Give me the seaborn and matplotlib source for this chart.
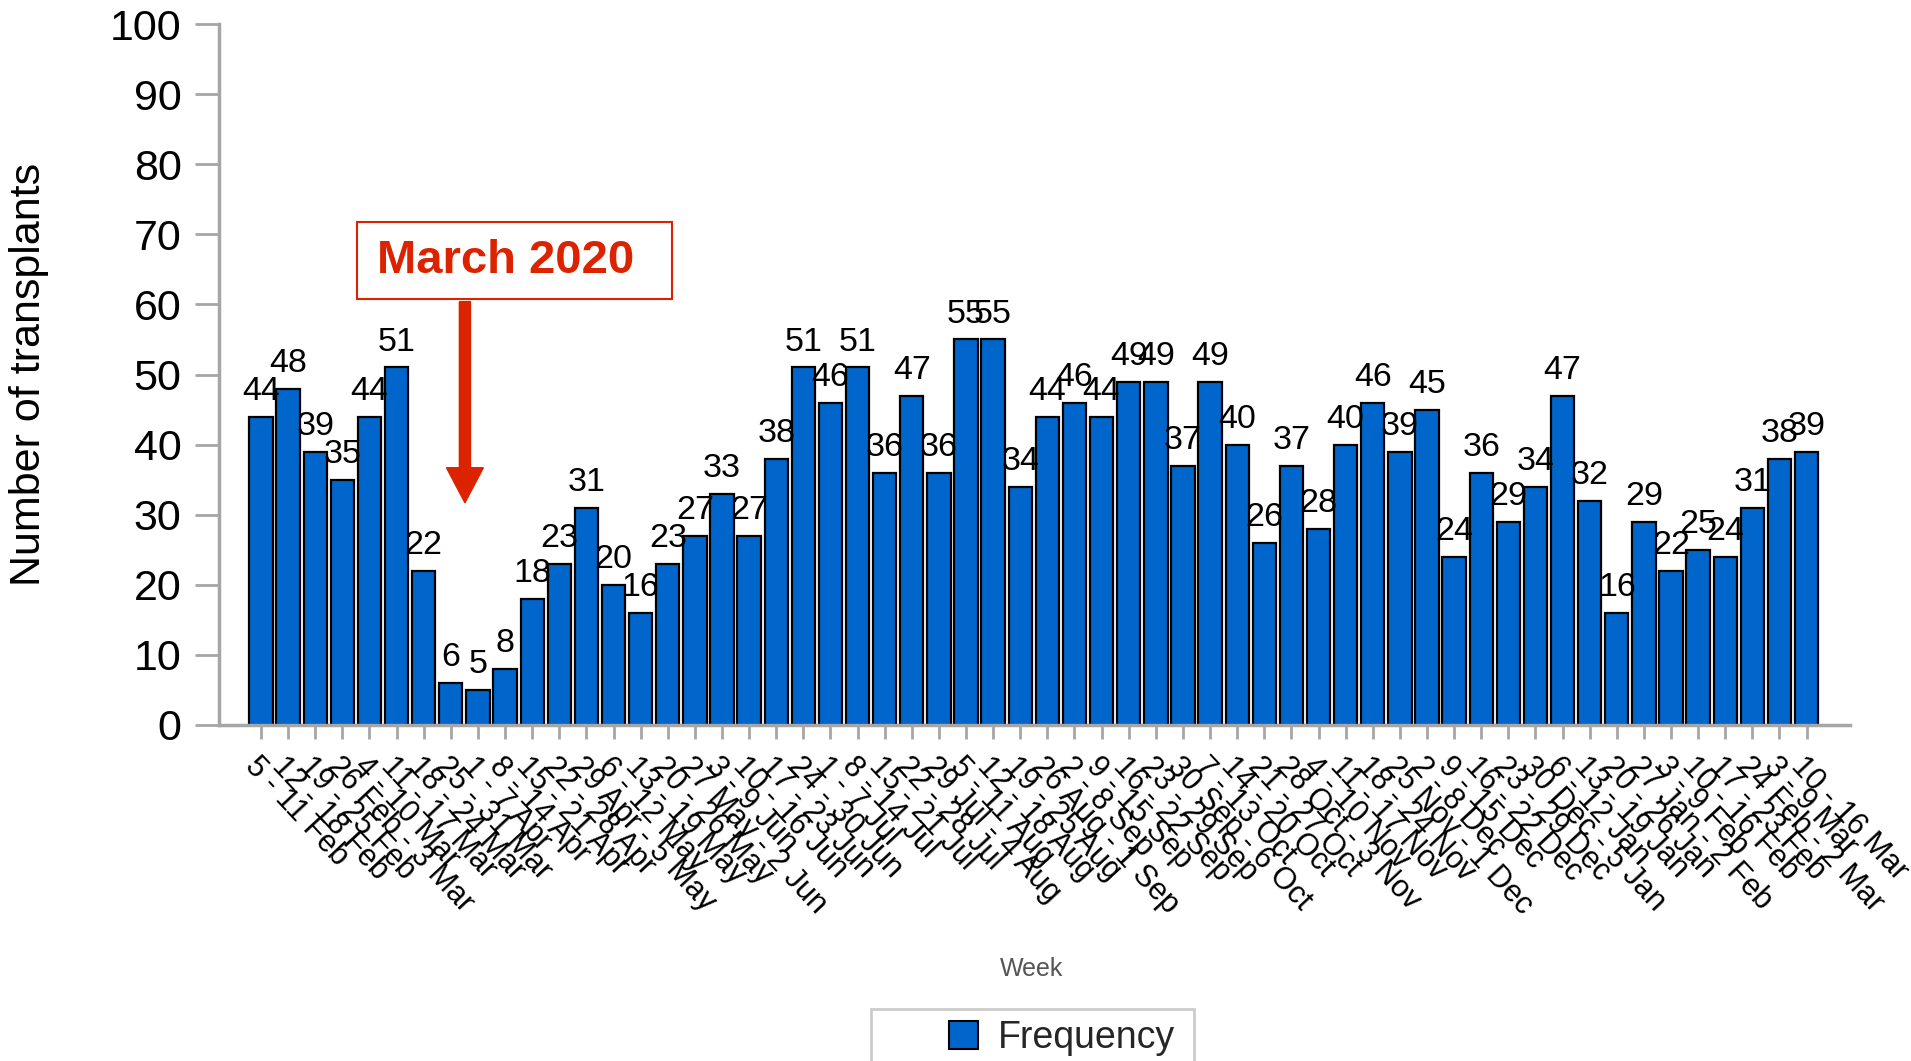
import numpy as np
import pandas as pd
import matplotlib
matplotlib.use("Agg")
import matplotlib.pyplot as plt
import seaborn as sns
from matplotlib.patches import Rectangle, FancyArrow, Patch

weeks = [
    "5 - 11 Feb", "12 - 18 Feb", "19 - 25 Feb", "26 Feb - 3 Mar", "4 - 10 Mar",
    "11 - 17 Mar", "18 - 24 Mar", "25 - 31 Mar", "1 - 7 Apr", "8 - 14 Apr",
    "15 - 21 Apr", "22 - 28 Apr", "29 Apr - 5 May", "6 - 12 May", "13 - 19 May",
    "20 - 26 May", "27 May - 2 Jun", "3 - 9 Jun", "10 - 16 Jun", "17 - 23 Jun",
    "24 - 30 Jun", "1 - 7 Jul", "8 - 14 Jul", "15 - 21 Jul", "22 - 28 Jul",
    "29 Jul - 4 Aug", "5 - 11 Aug", "12 - 18 Aug", "19 - 25 Aug", "26 Aug - 1 Sep",
    "2 - 8 Sep", "9 - 15 Sep", "16 - 22 Sep", "23 - 29 Sep", "30 Sep - 6 Oct",
    "7 - 13 Oct", "14 - 20 Oct", "21 - 27 Oct", "28 Oct - 3 Nov", "4 - 10 Nov",
    "11 - 17 Nov", "18 - 24 Nov", "25 Nov - 1 Dec", "2 - 8 Dec", "9 - 15 Dec",
    "16 - 22 Dec", "23 - 29 Dec", "30 Dec - 5 Jan", "6 - 12 Jan", "13 - 19 Jan",
    "20 - 26 Jan", "27 Jan - 2 Feb", "3 - 9 Feb", "10 - 16 Feb", "17 - 23 Feb",
    "24 Feb - 2 Mar", "3 - 9 Mar", "10 - 16 Mar",
]
frequency = [
    44, 48, 39, 35, 44, 51, 22, 6, 5, 8,
    18, 23, 31, 20, 16, 23, 27, 33, 27, 38,
    51, 46, 51, 36, 47, 36, 55, 55, 34, 44,
    46, 44, 49, 49, 37, 49, 40, 26, 37, 28,
    40, 46, 39, 45, 24, 36, 29, 34, 47, 32,
    16, 29, 22, 25, 24, 31, 38, 39,
]
y_ticks = list(range(0, 101, 10))
annotation_text = "March 2020"
legend_label = "Frequency"

BLUE = "#0066CC"
RED = "#DC2300"
GRAY = "#a6a6a6"

sns.set_theme(style="white")
plt.rcParams["font.family"] = ["Liberation Sans", "DejaVu Sans"]

W, H = 1911, 1061
fig = plt.figure(figsize=(W / 100, H / 100), dpi=100)
ax = fig.add_axes([219 / W, 1 - 725 / H, (1850 - 219) / W, (725 - 24) / H])

df = pd.DataFrame({"Week": weeks, "Frequency": frequency})
sns.barplot(data=df, x="Week", y="Frequency", color=BLUE, saturation=1,
            edgecolor="black", linewidth=1.6, width=0.86, ax=ax)

ax.set_xlim(-1.55, 58.6)
ax.set_ylim(0, 100)
ax.set_yticks(y_ticks)
ax.set_yticklabels([str(t) for t in y_ticks])

for c in ax.containers:
    ax.bar_label(c, labels=[str(v) for v in frequency], padding=7,
                 fontsize=24.5, color="black")

ax.set_xticks(range(len(weeks)))
ax.set_xticklabels(weeks, rotation=-47, ha="left", va="top",
                   rotation_mode="anchor", fontsize=22)

ax.tick_params(axis="y", left=True, length=17, width=2, color=GRAY,
               pad=10, labelsize=31, labelcolor="black")
ax.tick_params(axis="x", bottom=True, length=10, width=2, color=GRAY,
               pad=9, labelcolor="black")

for s in ["top", "right"]:
    ax.spines[s].set_visible(False)
for s in ["left", "bottom"]:
    ax.spines[s].set_color(GRAY)
    ax.spines[s].set_linewidth(2.5)

ax.set_ylabel("Number of transplants", fontsize=31, color="black")
ax.yaxis.set_label_coords(-0.104, 0.5)
ax.set_xlabel("Week", fontsize=18, color="#555555")
ax.xaxis.set_label_coords(0.4985, -0.331)

# Annotation box, text and arrow
ax.add_patch(Rectangle((3.54, 60.8), 15.15 - 3.54, 71.75 - 60.8,
                       facecolor="white", edgecolor=RED, lw=1.5, zorder=5))
ax.text(9.03, 66.2, annotation_text, color=RED, fontsize=34,
        fontweight="bold", ha="center", va="center", zorder=6)
ax.add_patch(FancyArrow(7.52, 60.4, 0, 31.7 - 60.4, width=0.41,
                        head_width=1.36, head_length=5.0,
                        length_includes_head=True, color=RED, zorder=5))

# Legend
handles = [Patch(facecolor=BLUE, edgecolor="black", linewidth=1.5,
                 label=legend_label)]
fig.legend(handles=handles, loc="center left",
           bbox_to_anchor=(949 / W, (H - 1038) / H), frameon=False,
           fontsize=27, handlelength=0.77, handleheight=0.77,
           handletextpad=0.53, borderpad=0, borderaxespad=0)
fig.add_artist(Rectangle((871 / W, -0.05), (1194 - 871) / W,
                         (H - 1009) / H + 0.05, transform=fig.transFigure,
                         fill=False, edgecolor="#cccccc", lw=2))

fig.savefig("out.png", dpi=100)
